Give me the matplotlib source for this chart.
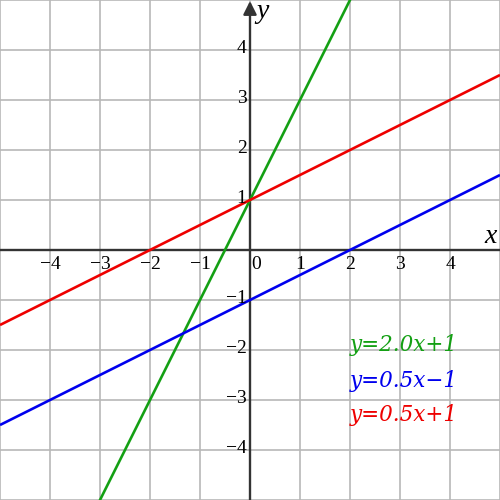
import matplotlib
matplotlib.use("Agg")
import matplotlib.pyplot as plt
import numpy as np

x_range = [-5, 5]
slopes = [2.0, 0.5, 0.5]
intercepts = [1, -1, 1]
colors = ["#14a014", "#0000ee", "#ee0000"]
labels = ["y=2.0x+1", "y=0.5x\u22121", "y=0.5x+1"]
label_y = [-2.02, -2.73, -3.43]
ticks = [-4, -3, -2, -1, 1, 2, 3, 4]

plt.rcParams['font.family'] = ['Liberation Serif', 'DejaVu Serif']

fig = plt.figure(figsize=(5, 5), dpi=100)
ax = fig.add_axes([0, 0, 1, 1])
ax.set_xlim(-5, 5)
ax.set_ylim(-5, 5)
ax.axis('off')

for g in range(-5, 6):
    ax.axvline(g, color='#b8b8b8', lw=1.2, zorder=1)
    ax.axhline(g, color='#b8b8b8', lw=1.2, zorder=1)

ax.axhline(0, color='#333333', lw=1.7, zorder=2)
ax.annotate('', xy=(0, 4.98), xytext=(0, -5.1),
            arrowprops=dict(arrowstyle='-|>', color='#333333', lw=1.7,
                            mutation_scale=20, shrinkA=0, shrinkB=0), zorder=2)

xs = np.array(x_range, dtype=float)
for m, b, c in zip(slopes, intercepts, colors):
    ax.plot(xs, m * xs + b, color=c, lw=1.9, zorder=3, solid_capstyle='butt')

for t in ticks:
    s = f"{t}".replace('-', '\u2212')
    ax.text(t, -0.38, s, ha='center', va='baseline', fontsize=14, zorder=4)
    ax.text(-0.07, t - 0.06, s, ha='right', va='baseline', fontsize=14, zorder=4)
ax.text(0.12, -0.38, "0", ha='center', va='baseline', fontsize=14, zorder=4)

ax.text(4.93, 0.14, "x", ha='right', va='baseline', fontsize=20, style='italic')
ax.text(0.13, 4.78, "y", ha='left', va='center', fontsize=20, style='italic')

for lab, ly, c in zip(labels, label_y, colors):
    ax.text(2.0, ly, lab, color=c, ha='left', va='baseline', fontsize=15.5,
            style='italic', family='DejaVu Serif')

fig.savefig('out.png', dpi=100)
